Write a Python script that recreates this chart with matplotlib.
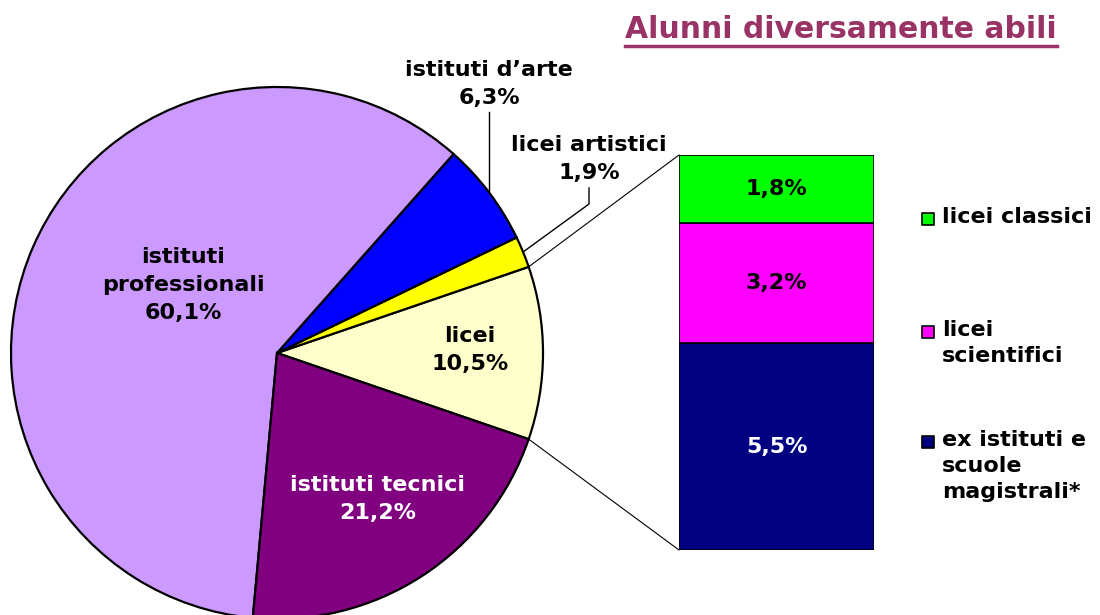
import numpy as np
import matplotlib.pyplot as plt
from matplotlib.patches import ConnectionPatch
from matplotlib.lines import Line2D

# pie data (counter-clockwise from the licei slice)
pie_labels = ["licei", "licei artistici", "istituti d\u2019arte", "istituti\nprofessionali", "istituti tecnici"]
pie_values = [10.5, 1.9, 6.3, 60.1, 21.2]
pie_colors = ["#FFFFCC", "#FFFF00", "#0000FF", "#CC99FF", "#800080"]

# breakdown of licei (bottom to top)
bar_labels = ["ex istituti e\nscuole\nmagistrali*", "licei\nscientifici", "licei classici"]
bar_values = [5.5, 3.2, 1.8]
bar_colors = ["#000080", "#FF00FF", "#00FF00"]

title = "Alunni diversamente abili"
title_color = "#993366"

def pct(v):
    return f"{v:.1f}%".replace(".", ",")

W, H = 1100, 615
fig = plt.figure(figsize=(11, 6.15), dpi=100)
ax = fig.add_axes([0, 0, 1, 1])

cx, cy, R = 277, H - 353, 266
start = -pie_values[0] / 2 * 3.6
wedges, _ = ax.pie(pie_values, colors=pie_colors, startangle=start, counterclock=True,
                   center=(cx, cy), radius=R,
                   wedgeprops=dict(edgecolor="black", linewidth=1.6))
ax.set_xlim(0, W)
ax.set_ylim(0, H)
ax.set_aspect("equal")
ax.axis("off")

def edge_pt(angle):
    a = np.deg2rad(angle)
    return cx + R * np.cos(a), cy + R * np.sin(a)

fs = 16
kw = dict(ha="center", va="center", fontsize=fs, fontweight="bold", linespacing=1.5)

# labels inside the pie
ax.text(183, H - 285, f"{pie_labels[3]}\n{pct(pie_values[3])}", color="black", **kw)
ax.text(470, H - 350, f"{pie_labels[0]}\n{pct(pie_values[0])}", color="black", **kw)
ax.text(378, H - 499, f"{pie_labels[4]}\n{pct(pie_values[4])}", color="white", **kw)

# labels outside with leader lines
ax.text(489, H - 84, f"{pie_labels[2]}\n{pct(pie_values[2])}", color="black", **kw)
w = wedges[2]
mx, my = edge_pt((w.theta1 + w.theta2) / 2)
ax.plot([mx, mx], [H - 112, my], color="black", lw=1)

ax.text(589, H - 159, f"{pie_labels[1]}\n{pct(pie_values[1])}", color="black", **kw)
w = wedges[1]
mx, my = edge_pt((w.theta1 + w.theta2) / 2)
ax.plot([589, 589, mx], [H - 188, H - 204, my], color="black", lw=1)

# stacked bar for licei
bx = fig.add_axes([679 / W, (H - 550) / H, 195 / W, 395 / H])
bottom = 0
for v, c in zip(bar_values, bar_colors):
    bx.bar(0, v, bottom=bottom, width=1, align="edge", color=c, edgecolor="black", linewidth=1.2)
    bx.text(0.5, bottom + v / 2, pct(v), ha="center", va="center", fontsize=fs, fontweight="bold",
            color="white" if c == "#000080" else "black")
    bottom += v
bx.set_xlim(0, 1)
bx.set_ylim(0, sum(bar_values))
bx.axis("off")

# connectors from pie to bar
w = wedges[0]
for ang, yb in [(w.theta2, sum(bar_values)), (w.theta1, 0)]:
    con = ConnectionPatch(xyA=edge_pt(ang), coordsA=ax.transData, xyB=(0, yb), coordsB=bx.transData,
                          color="black", lw=0.8)
    fig.add_artist(con)

# legend
leg_y = [219, 332, 442]
for lab, c, y in zip(bar_labels[::-1], bar_colors[::-1], leg_y):
    ax.scatter([928], [H - y], marker="s", s=80, color=c, edgecolor="black", linewidth=1.2, zorder=5)
    ax.text(942, H - y + 12, lab, ha="left", va="top", fontsize=fs, fontweight="bold", linespacing=1.36)

# title with underline
t = ax.text(625, H - 30, title, ha="left", va="center", fontsize=21.5, fontweight="bold", color=title_color)
fig.canvas.draw()
bb = t.get_window_extent()
fig.add_artist(Line2D([bb.x0 / W, bb.x1 / W], [(bb.y0 - 1) / H] * 2, color=title_color, lw=2.5))

fig.savefig("out.png", dpi=100)
